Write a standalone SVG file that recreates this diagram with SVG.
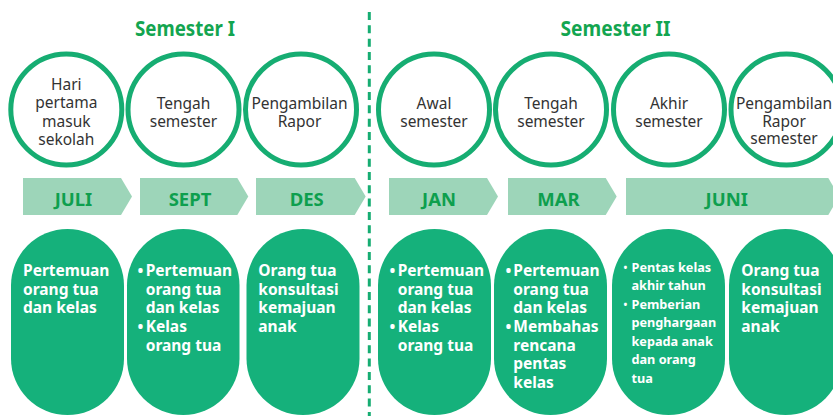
<svg xmlns="http://www.w3.org/2000/svg" width="833" height="416" viewBox="0 0 833 416">
<style>
.title{font-family:"Noto Sans","Open Sans",sans-serif;font-weight:700;font-size:22px;fill:#13A550;text-anchor:middle}
.ring{fill:#fff;stroke:#16AD72;stroke-width:5}
.ct{font-family:"Noto Sans","Open Sans",sans-serif;font-size:15.5px;fill:#333;text-anchor:middle}
.chev{fill:#9DD5B9}
.mon{font-family:"Noto Sans","Open Sans",sans-serif;font-weight:700;font-size:18.5px;fill:#0E9F4E;text-anchor:middle}
.pill{fill:#15B17B}
.pt{font-family:"Noto Sans","Open Sans",sans-serif;font-weight:700;font-size:15.5px;fill:#fff}
.ps{font-family:"Noto Sans","Open Sans",sans-serif;font-weight:700;font-size:12.7px;fill:#fff}
.pb{font-family:"Noto Sans","Open Sans",sans-serif;font-weight:700;font-size:10px;fill:#fff}
.div{stroke:#16AD72;stroke-width:3;stroke-dasharray:8 5.33;fill:none}
</style>
<rect width="833" height="416" fill="#fff"/>
<text class="title" x="185" y="35.5" textLength="100" lengthAdjust="spacingAndGlyphs">Semester I</text>
<text class="title" x="615.5" y="35.5" textLength="110" lengthAdjust="spacingAndGlyphs">Semester II</text>
<g id="connectors">
<line class="div" x1="369.3" y1="12" x2="369.3" y2="416"/>
</g>
<g id="c1"><circle class="ring" cx="66.3" cy="109.5" r="55.5"/>
<text class="ct" x="66.3" y="90">Hari</text><text class="ct" x="66.3" y="108.3">pertama</text><text class="ct" x="66.3" y="126.7">masuk</text><text class="ct" x="66.3" y="145">sekolah</text></g>
<g id="c2"><circle class="ring" cx="183.5" cy="109.5" r="55.5"/>
<text class="ct" x="183.5" y="109.3">Tengah</text><text class="ct" x="183.5" y="126.7">semester</text></g>
<g id="c3"><circle class="ring" cx="301" cy="109.5" r="55.5"/>
<text class="ct" x="299.5" y="109.3">Pengambilan</text><text class="ct" x="299.5" y="126.7">Rapor</text></g>
<g id="c4"><circle class="ring" cx="434" cy="109.5" r="55.5"/>
<text class="ct" x="434" y="109.3">Awal</text><text class="ct" x="434" y="126.7">semester</text></g>
<g id="c5"><circle class="ring" cx="551" cy="109.5" r="55.5"/>
<text class="ct" x="551" y="109.3">Tengah</text><text class="ct" x="551" y="126.7">semester</text></g>
<g id="c6"><circle class="ring" cx="669" cy="109.5" r="55.5"/>
<text class="ct" x="669" y="109.3">Akhir</text><text class="ct" x="669" y="126.7">semester</text></g>
<g id="c7"><circle class="ring" cx="786.5" cy="109.5" r="55.5"/>
<text class="ct" x="784" y="109.3">Pengambilan</text><text class="ct" x="784" y="126.7">Rapor</text><text class="ct" x="784" y="144">semester</text></g>
<g id="m1"><polygon class="chev" points="23,178 121,178 132,196.5 121,215 23,215"/><text class="mon" x="73.5" y="206">JULI</text></g>
<g id="m2"><polygon class="chev" points="140,178 237.3,178 248.3,196.5 237.3,215 140,215"/><text class="mon" x="190" y="206">SEPT</text></g>
<g id="m3"><polygon class="chev" points="256,178 354.7,178 365.7,196.5 354.7,215 256,215"/><text class="mon" x="306.7" y="206">DES</text></g>
<g id="m4"><polygon class="chev" points="389,178 487,178 498,196.5 487,215 389,215"/><text class="mon" x="439" y="206">JAN</text></g>
<g id="m5"><polygon class="chev" points="508,178 605.7,178 616.7,196.5 605.7,215 508,215"/><text class="mon" x="558.5" y="206">MAR</text></g>
<g id="m6"><polygon class="chev" points="626,178 828.3,178 839.3,196.5 828.3,215 626,215"/><text class="mon" x="726.7" y="206">JUNI</text></g>
<g id="p1"><rect class="pill" x="11" y="229" width="113" height="186" rx="56.5"/>
<text class="pt" x="23" y="276">Pertemuan</text><text class="pt" x="23" y="294.7">orang tua</text><text class="pt" x="23" y="313.3">dan kelas</text></g>
<g id="p2"><rect class="pill" x="127" y="229" width="112.5" height="186" rx="56.25"/>
<text class="pt" x="137.5" y="276">•</text><text class="pt" x="145.7" y="276">Pertemuan</text><text class="pt" x="145.7" y="294.7">orang tua</text><text class="pt" x="145.7" y="313.3">dan kelas</text><text class="pt" x="137.5" y="332">•</text><text class="pt" x="145.7" y="332">Kelas</text><text class="pt" x="145.7" y="350.7">orang tua</text></g>
<g id="p3"><rect class="pill" x="246.5" y="229" width="113" height="186" rx="56.5"/>
<text class="pt" x="258.3" y="276">Orang tua</text><text class="pt" x="258.3" y="294.7">konsultasi</text><text class="pt" x="258.3" y="313.3">kemajuan</text><text class="pt" x="258.3" y="332">anak</text></g>
<g id="p4"><rect class="pill" x="378" y="229" width="113" height="186" rx="56.5"/>
<text class="pt" x="389.5" y="276">•</text><text class="pt" x="397.7" y="276">Pertemuan</text><text class="pt" x="397.7" y="294.7">orang tua</text><text class="pt" x="397.7" y="313.3">dan kelas</text><text class="pt" x="389.5" y="332">•</text><text class="pt" x="397.7" y="332">Kelas</text><text class="pt" x="397.7" y="350.7">orang tua</text></g>
<g id="p5"><rect class="pill" x="494" y="229" width="113" height="186" rx="56.5"/>
<text class="pt" x="505.5" y="276">•</text><text class="pt" x="513.3" y="276">Pertemuan</text><text class="pt" x="513.3" y="294.7">orang tua</text><text class="pt" x="513.3" y="313.3">dan kelas</text><text class="pt" x="505.5" y="332">•</text><text class="pt" x="513.3" y="332">Membahas</text><text class="pt" x="513.3" y="350.7">rencana</text><text class="pt" x="513.3" y="369.3">pentas</text><text class="pt" x="513.3" y="388">kelas</text></g>
<g id="p6"><rect class="pill" x="612" y="229" width="113" height="186" rx="56.5"/>
<text class="pb" x="623.5" y="270.5">•</text><text class="ps" x="631.5" y="271.7">Pentas kelas</text><text class="ps" x="631.5" y="290.2">akhir tahun</text><text class="pb" x="623.5" y="307.5">•</text><text class="ps" x="631.5" y="308.7">Pemberian</text><text class="ps" x="631.5" y="327.2">penghargaan</text><text class="ps" x="631.5" y="345.7">kepada anak</text><text class="ps" x="631.5" y="364.2">dan orang</text><text class="ps" x="631.5" y="382.7">tua</text></g>
<g id="p7"><rect class="pill" x="729" y="229" width="113" height="186" rx="56.5"/>
<text class="pt" x="741.3" y="276">Orang tua</text><text class="pt" x="741.3" y="294.7">konsultasi</text><text class="pt" x="741.3" y="313.3">kemajuan</text><text class="pt" x="741.3" y="332">anak</text></g>
</svg>
